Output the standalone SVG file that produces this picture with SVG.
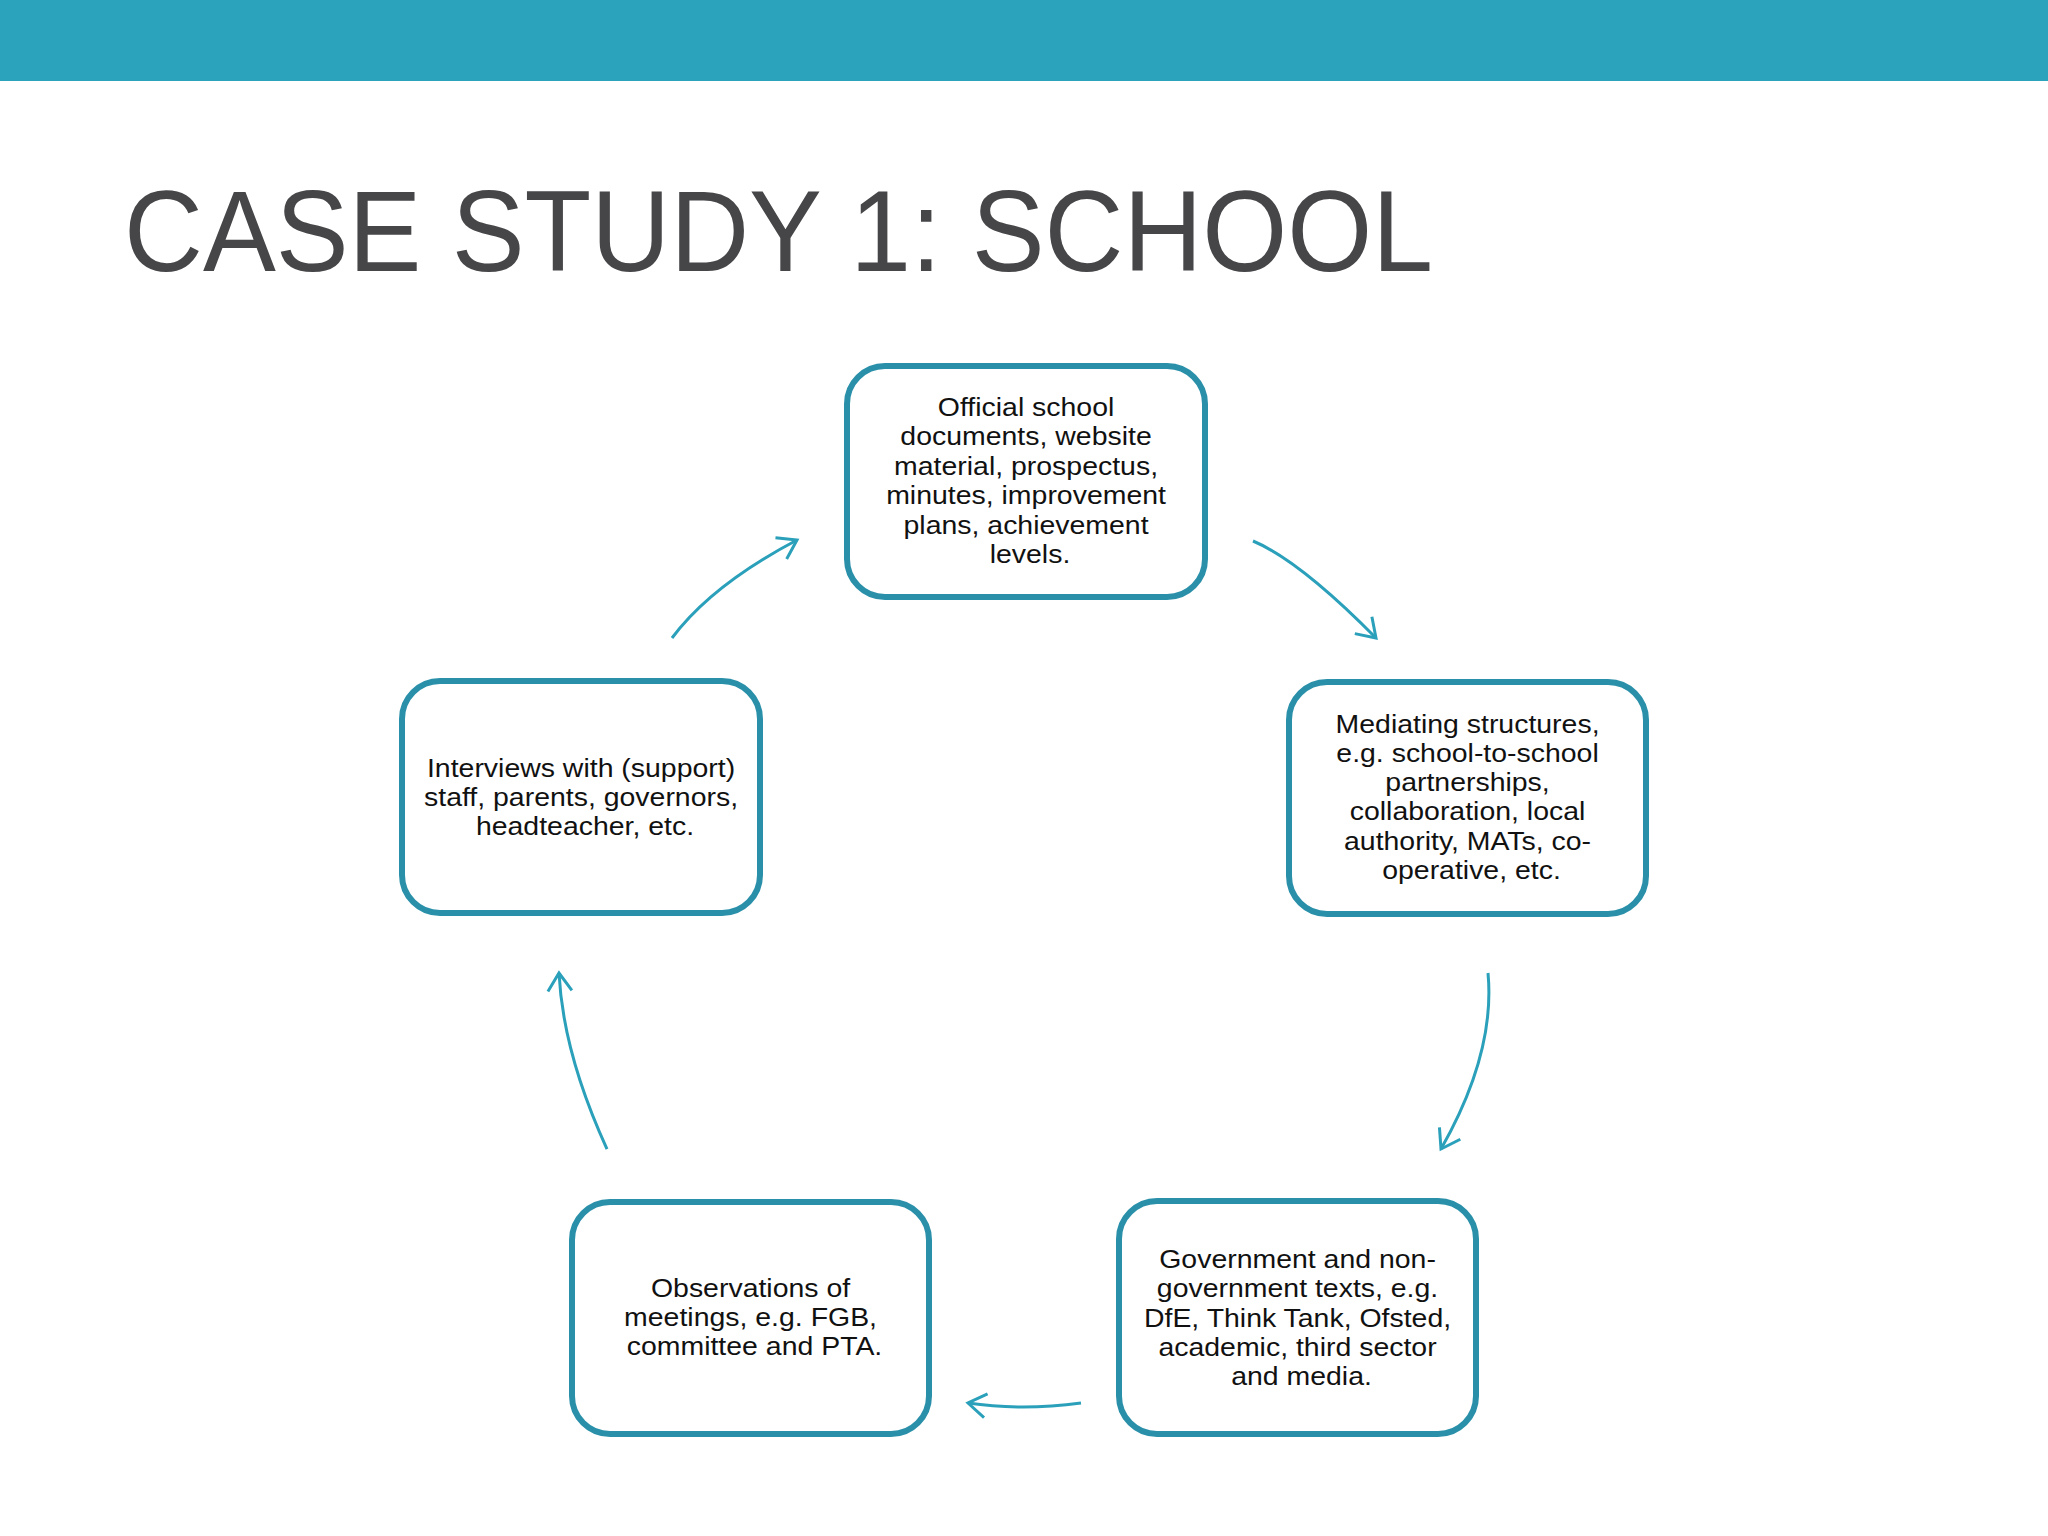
<svg xmlns="http://www.w3.org/2000/svg" width="2048" height="1536" viewBox="0 0 2048 1536">
<style>
.box{fill:#ffffff;stroke:#2A90AA;stroke-width:6}
.lbl{font-family:"Liberation Sans",Arial,sans-serif;font-size:25.3px;fill:#111111;text-anchor:middle}
.arr{fill:none;stroke:#2BA0BA;stroke-width:3;marker-end:url(#chev)}
.title{font-family:"Liberation Sans",Arial,sans-serif;font-size:115px;fill:#464548}
</style>
<defs>
<marker id="chev" markerUnits="userSpaceOnUse" viewBox="-22 -16 26 32" refX="0" refY="0" markerWidth="26" markerHeight="32" orient="auto" overflow="visible">
<path d="M-18,-12 L0,0 L-18,12" fill="none" stroke="#2BA0BA" stroke-width="3"/>
</marker>
</defs>
<rect x="0" y="0" width="2048" height="1536" fill="#ffffff"/>
<rect id="topbar" x="0" y="0" width="2048" height="81" fill="#2CA3BC"/>
<text id="title" class="title" x="124" y="271" textLength="1309" lengthAdjust="spacingAndGlyphs">CASE STUDY 1: SCHOOL</text>

<g id="connectors">
<path class="arr" d="M1253,541 Q1299.5,560.5 1376,638"/>
<path class="arr" d="M1488,973 Q1495.5,1053 1441,1149"/>
<path class="arr" d="M1081,1403 Q1021.5,1411 968,1403"/>
<path class="arr" d="M607,1149 Q563,1053 559,973"/>
<path class="arr" d="M672,638 Q711.5,585 797,540"/>
</g>

<g id="node-official">
<rect class="box" x="847" y="366" width="358" height="231" rx="38"/>
<text class="lbl" transform="translate(1030 0) scale(1.125 1)">
<tspan x="0" y="416">Official school</tspan>
<tspan x="0" y="445.5">documents, website</tspan>
<tspan x="0" y="475">material, prospectus,</tspan>
<tspan x="0" y="504.5">minutes, improvement</tspan>
<tspan x="0" y="534">plans, achievement</tspan>
<tspan x="0" y="563.5">levels.</tspan>
</text>
</g>

<g id="node-mediating">
<rect class="box" x="1289" y="682" width="357" height="232" rx="38"/>
<text class="lbl" transform="translate(1471.5 0) scale(1.125 1)">
<tspan x="0" y="733">Mediating structures,</tspan>
<tspan x="0" y="762">e.g. school-to-school</tspan>
<tspan x="0" y="791">partnerships,</tspan>
<tspan x="0" y="820.5">collaboration, local</tspan>
<tspan x="0" y="850">authority, MATs, co-</tspan>
<tspan x="0" y="879">operative, etc.</tspan>
</text>
</g>

<g id="node-government">
<rect class="box" x="1119" y="1201" width="357" height="233" rx="38"/>
<text class="lbl" transform="translate(1301.5 0) scale(1.125 1)">
<tspan x="0" y="1268">Government and non-</tspan>
<tspan x="0" y="1297">government texts, e.g.</tspan>
<tspan x="0" y="1327">DfE, Think Tank, Ofsted,</tspan>
<tspan x="0" y="1356">academic, third sector</tspan>
<tspan x="0" y="1385">and media.</tspan>
</text>
</g>

<g id="node-observations">
<rect class="box" x="572" y="1202" width="357" height="232" rx="38"/>
<text class="lbl" transform="translate(754.5 0) scale(1.125 1)">
<tspan x="0" y="1297">Observations of</tspan>
<tspan x="0" y="1326">meetings, e.g. FGB,</tspan>
<tspan x="0" y="1355">committee and PTA.</tspan>
</text>
</g>

<g id="node-interviews">
<rect class="box" x="402" y="681" width="358" height="232" rx="38"/>
<text class="lbl" transform="translate(585 0) scale(1.125 1)">
<tspan x="0" y="777">Interviews with (support)</tspan>
<tspan x="0" y="806">staff, parents, governors,</tspan>
<tspan x="0" y="835">headteacher, etc.</tspan>
</text>
</g>
</svg>
